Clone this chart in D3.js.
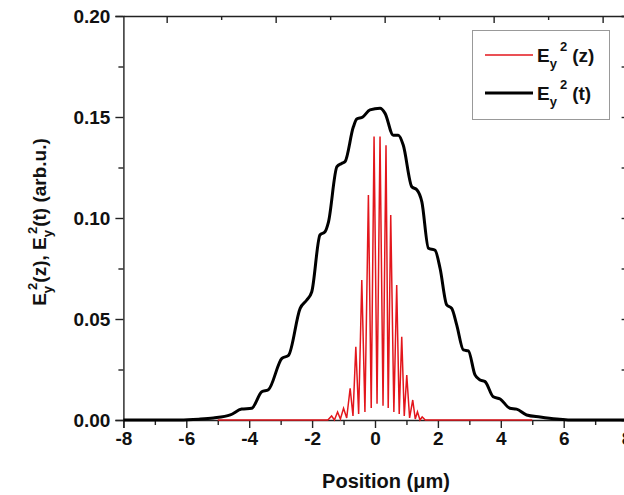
<!doctype html>
<html>
  <head>
    <meta charset="utf-8">
    <title>Ey2(z) and Ey2(t) vs position</title>
    <script src="https://cdnjs.cloudflare.com/ajax/libs/d3/7.8.5/d3.min.js"></script>
    <style>
      body { margin: 0; background: #fff; }
      text { font-family: "Liberation Sans", Arial, sans-serif; font-weight: bold; }
      .axis path, .axis line { stroke: #222; stroke-width: 1.4; }
      .axis text { font-size: 19px; fill: #111; }
    </style>
  </head>
  <body>
    <div id="root"></div>
    <script>
      // E_y^2(t) - broad envelope (black)
      let tX = [-8, -6.2, -5.6, -5.14, -4.6, -4.24, -3.92, -3.6, -3.39, -2.96, -2.75, -2.38, -2.17, -2.01,
                -1.75, -1.59, -1.48, -1.21, -1.06, -0.95, -0.69, -0.58, -0.39, -0.16, 0.16, 0.32, 0.58,
                0.74, 0.9, 1.17, 1.33, 1.49, 1.7, 1.91, 2.07, 2.28, 2.44, 2.6, 2.81, 2.97, 3.18, 3.34, 3.5,
                3.76, 3.98, 4.29, 4.5, 4.82, 5.25, 5.78, 6.2, 8];
      let tY = [0, 0, 0.0004, 0.001, 0.0025, 0.0054, 0.0058, 0.014, 0.015, 0.0305, 0.032, 0.0553, 0.0594, 0.0635,
                0.0916, 0.0932, 0.098, 0.1254, 0.127, 0.128, 0.145, 0.149, 0.150, 0.1535, 0.1543, 0.1518, 0.141,
                0.141, 0.136, 0.1155, 0.114, 0.108, 0.085, 0.084, 0.075, 0.057, 0.0553, 0.047, 0.0347, 0.0342, 0.0223, 0.0198, 0.019,
                0.0115, 0.0104, 0.0058, 0.0054, 0.0025, 0.0015, 0.0005, 0, 0];

      // E_y^2(z) - fast oscillating field (red)
      let zX = [-5, -1.5, -1.38, -1.29, -1.19, -1.1, -1.0, -0.9, -0.79, -0.7, -0.61, -0.52, -0.42, -0.32,
                -0.21, -0.12, -0.03, 0.065, 0.16, 0.255, 0.35, 0.42, 0.5, 0.6, 0.69, 0.77, 0.85, 0.93, 1.01,
                1.1, 1.2, 1.28, 1.35, 1.43, 1.5, 1.6, 5];
      let zY = [0, 0, 0.002, 0, 0.004, 0.0005, 0.0058, 0.001, 0.0157, 0.002, 0.0363, 0.003, 0.0693, 0.004,
                0.1114, 0.006, 0.1403, 0.008, 0.1403, 0.007, 0.136, 0.006, 0.1015, 0.004, 0.0668, 0.003, 0.0412, 0.002, 0.0223,
                0.001, 0.0099, 0.0005, 0.0041, 0, 0.0015, 0, 0];

      let xTicks = [-8, -6, -4, -2, 0, 2, 4, 6, 8];
      let xMinor = [-7, -5, -3, -1, 1, 3, 5, 7];
      let yTicks = [0, 0.05, 0.10, 0.15, 0.20];
      let yMinor = [0.025, 0.075, 0.125, 0.175];
      // top frame carries its own tick spacing in the original
      let topMajor = [0, 1, 2, 3, 4];
      let topMinor = [0.5, 1.5, 2.5, 3.5];

      let width = 624, height = 495;
      let margin = {top: 16, left: 123.4, bottom: 75};

      let svg = d3.select('#root')
        .append('svg')
        .attr('width', width)
        .attr('height', height);

      let xScale = d3.scaleLinear().domain([-8, 8]).range([margin.left, 626.6]);
      let yScale = d3.scaleLinear().domain([0, 0.2]).range([height - margin.bottom, margin.top]);
      let topScale = d3.scaleLinear().domain([-0.397, 4.22]).range([margin.left, 626.6]);
      let y0 = yScale(0);

      // bottom axis
      svg.append('g')
        .attr('class', 'axis')
        .attr('transform', 'translate(0,' + y0 + ')')
        .call(d3.axisBottom(xScale).tickValues(xTicks).tickSize(8).tickPadding(4).tickFormat(d => d));
      svg.append('g')
        .attr('class', 'axis')
        .attr('transform', 'translate(0,' + y0 + ')')
        .call(d3.axisBottom(xScale).tickValues(xMinor).tickSize(5).tickFormat(''))
        .select('.domain').remove();

      // left axis
      svg.append('g')
        .attr('class', 'axis')
        .attr('transform', 'translate(' + margin.left + ',0)')
        .call(d3.axisLeft(yScale).tickValues(yTicks).tickSize(8).tickPadding(5).tickFormat(d3.format('.2f')));
      svg.append('g')
        .attr('class', 'axis')
        .attr('transform', 'translate(' + margin.left + ',0)')
        .call(d3.axisLeft(yScale).tickValues(yMinor).tickSize(5).tickFormat(''))
        .select('.domain').remove();

      // top frame
      svg.append('g')
        .attr('class', 'axis')
        .attr('transform', 'translate(0,' + margin.top + ')')
        .call(d3.axisBottom(topScale).tickValues(topMajor).tickSize(7).tickSizeOuter(0).tickFormat(''));
      svg.append('g')
        .attr('class', 'axis')
        .attr('transform', 'translate(0,' + margin.top + ')')
        .call(d3.axisBottom(topScale).tickValues(topMinor).tickSize(4).tickFormat(''))
        .select('.domain').remove();

      // right frame (sits just past the window edge)
      svg.append('g')
        .attr('class', 'axis')
        .attr('transform', 'translate(626.6,0)')
        .call(d3.axisLeft(yScale).tickValues(yTicks.concat(yMinor)).tickSize(5).tickFormat(''));

      // curves
      let tData = tX.map((x, i) => ({x: x, y: tY[i]}));
      let zData = zX.map((x, i) => ({x: x, y: zY[i]}));

      let redLine = d3.line().x(d => xScale(d.x)).y(d => yScale(d.y));
      let blackLine = d3.line().x(d => xScale(d.x)).y(d => yScale(d.y)).curve(d3.curveMonotoneX);

      svg.append('path')
        .datum(zData)
        .attr('d', redLine)
        .attr('fill', 'none')
        .attr('stroke', '#e3161c')
        .attr('stroke-width', 1.5);

      svg.append('path')
        .datum(tData)
        .attr('d', blackLine)
        .attr('fill', 'none')
        .attr('stroke', '#000')
        .attr('stroke-width', 3);

      // legend
      let legend = svg.append('g');
      legend.append('rect')
        .attr('x', 472.5).attr('y', 30.5)
        .attr('width', 137).attr('height', 89)
        .attr('fill', '#fff')
        .attr('stroke', '#999')
        .attr('stroke-width', 1);

      let legendItems = [
        {label: '(z)', color: '#e3161c', w: 1.5, y: 55},
        {label: '(t)', color: '#000', w: 3, y: 93}
      ];
      legendItems.forEach(item => {
        legend.append('line')
          .attr('x1', 485).attr('x2', 533)
          .attr('y1', item.y).attr('y2', item.y)
          .attr('stroke', item.color)
          .attr('stroke-width', item.w);
        let t = legend.append('text')
          .attr('x', 537).attr('y', item.y + 7)
          .attr('font-size', 19)
          .attr('fill', '#111');
        t.append('tspan').text('E');
        t.append('tspan').attr('font-size', 13).attr('dy', 6).attr('dx', 0).text('y');
        t.append('tspan').attr('font-size', 13).attr('dy', -17).attr('dx', 3).text('2');
        t.append('tspan').attr('dy', 11).attr('dx', 5).text(item.label);
      });

      // axis titles
      svg.append('text')
        .attr('x', 386)
        .attr('y', 488)
        .attr('text-anchor', 'middle')
        .attr('font-size', 20)
        .attr('fill', '#111')
        .text('Position (\u03bcm)');

      let yt = svg.append('text')
        .attr('transform', 'translate(46,222) rotate(-90)')
        .attr('text-anchor', 'middle')
        .attr('font-size', 19)
        .attr('fill', '#111');
      yt.append('tspan').text('E');
      yt.append('tspan').attr('font-size', 13).attr('dy', 6).text('y');
      yt.append('tspan').attr('font-size', 13).attr('dy', -15).attr('dx', -4).text('2');
      yt.append('tspan').attr('dy', 9).text('(z), E');
      yt.append('tspan').attr('font-size', 13).attr('dy', 6).text('y');
      yt.append('tspan').attr('font-size', 13).attr('dy', -15).attr('dx', -4).text('2');
      yt.append('tspan').attr('dy', 9).text('(t) (arb.u.)');
    </script>
  </body>
</html>
